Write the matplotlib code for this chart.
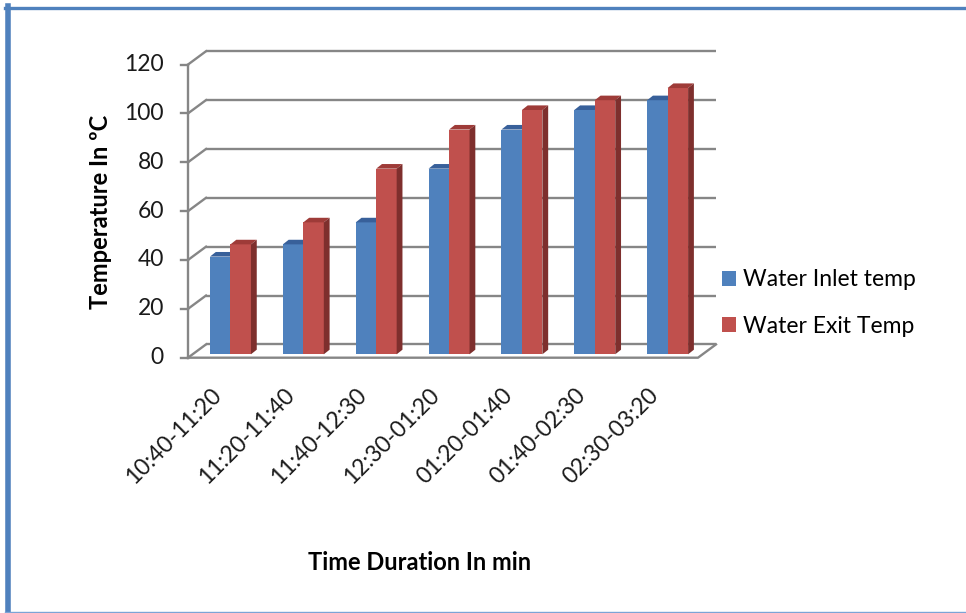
import matplotlib
matplotlib.use("Agg")
import matplotlib.pyplot as plt
from matplotlib.patches import Polygon, Patch
from matplotlib.lines import Line2D

# --- data ---
periods = ["10:40-11:20", "11:20-11:40", "11:40-12:30", "12:30-01:20",
           "01:20-01:40", "01:40-02:30", "02:30-03:20"]
inlet_temp = [40, 45, 54, 76, 92, 100, 104]
exit_temp = [45, 54, 76, 92, 100, 104, 109]
y_ticks = [0, 20, 40, 60, 80, 100, 120]

# --- look ---
FONT = "Lato"
FS = 16.5
GRID = "#868686"
BLUE, BLUE_TOP = "#4F81BD", "#38609A"
RED, RED_TOP, RED_SIDE = "#C0504D", "#9E3B38", "#7E2F2D"
FRAME = "#4F81BD"

W, H = 966, 613
PX_X = 510 / 7.0      # pixels per category on the front plane
PX_Y = 2.443          # pixels per degree
X0, Y0 = 188, 357.7   # pixel position of the front origin

# oblique depth of the chart box and of a single bar (data units)
DX, DY = 18 / PX_X, 13.3 / PX_Y
BX, BY = 5.8 / PX_X, 4.6 / PX_Y
BASE = 3.4 / PX_Y     # bar front face sits a bit behind the front edge
OFF, BW = 0.583, 0.281

XMAX, YMAX = 7.3, 126

fig = plt.figure(figsize=(W / 100, H / 100), dpi=100)
ax = fig.add_axes([X0 / W, (H - Y0) / H, XMAX * PX_X / W, YMAX * PX_Y / H])
ax.set_xlim(0, XMAX)
ax.set_ylim(0, YMAX)
ax.axis("off")

n = len(periods)
lw = 1.7

# walls: back gridlines, side-wall diagonals, ticks
for v in y_ticks:
    ax.plot([DX, n + DX], [v + DY, v + DY], color=GRID, lw=lw, clip_on=False,
            solid_capstyle="butt", zorder=1)
    ax.plot([0, DX], [v, v + DY], color=GRID, lw=lw, clip_on=False, zorder=1)
    ax.plot([-0.1, 0], [v, v], color=GRID, lw=lw, clip_on=False, zorder=1)
    ax.text(-0.33, v, str(v), ha="right", va="center", fontsize=FS,
            family=FONT, color="#1a1a1a")

ax.plot([0, 0], [0, y_ticks[-1]], color=GRID, lw=lw, clip_on=False, zorder=1)
# floor front edge and right edge
ax.plot([0, n, n + DX], [0, 0, DY], color=GRID, lw=lw, clip_on=False, zorder=1)


def draw_bar(x, val, front, top, side=None):
    y1 = BASE + val
    ax.bar(x, val, width=BW, bottom=BASE, align="edge", color=front,
           edgecolor="none", zorder=3)
    ax.add_patch(Polygon([(x, y1), (x + BW, y1), (x + BW + BX, y1 + BY),
                          (x + BX, y1 + BY)], closed=True, facecolor=top,
                         edgecolor="none", zorder=3, clip_on=False))
    if side is not None:
        ax.add_patch(Polygon([(x + BW, BASE), (x + BW + BX, BASE + BY),
                              (x + BW + BX, y1 + BY), (x + BW, y1)],
                             closed=True, facecolor=side, edgecolor="none",
                             zorder=3, clip_on=False))


for i in range(n):
    draw_bar(i + OFF - BW, inlet_temp[i], BLUE, BLUE_TOP)
    draw_bar(i + OFF, exit_temp[i], RED, RED_TOP, RED_SIDE)

# category labels
for i, lab in enumerate(periods):
    ax.text(i + 0.41, -14, lab, rotation=45, rotation_mode="anchor",
            ha="right", va="center", fontsize=FS, family=FONT,
            color="#1a1a1a")

# axis titles
fig.text(100 / W, 1 - 212 / H, "Temperature In ºC", rotation=90,
         ha="center", va="center", fontsize=17, fontweight="bold",
         family=FONT)
fig.text(420 / W, 1 - 563 / H, "Time Duration In min", ha="center",
         va="center", fontsize=17, fontweight="bold", family=FONT)

# legend
handles = [Patch(facecolor=BLUE, label="Water Inlet temp"),
           Patch(facecolor=RED, label="Water Exit Temp")]
fig.legend(handles=handles, loc="center left",
           bbox_to_anchor=(717 / W, 1 - 303 / H), frameon=False,
           prop={"family": FONT, "size": FS}, handlelength=0.63,
           handleheight=0.63, handletextpad=0.3, labelspacing=1.1,
           borderpad=0.2, borderaxespad=0)

# frame around the chart
fig.add_artist(Line2D([7.8 / W, 7.8 / W], [0, 1 - 6 / H], color=FRAME,
                      lw=4.0, transform=fig.transFigure))
fig.add_artist(Line2D([5 / W, 1], [1 - 7.6 / H, 1 - 7.6 / H], color=FRAME,
                      lw=2.4, transform=fig.transFigure))
fig.add_artist(Line2D([5 / W, 1], [1 - 612 / H, 1 - 612 / H],
                      color="#7BA4D6", lw=1.0, transform=fig.transFigure))

fig.savefig("out.png", dpi=100)
